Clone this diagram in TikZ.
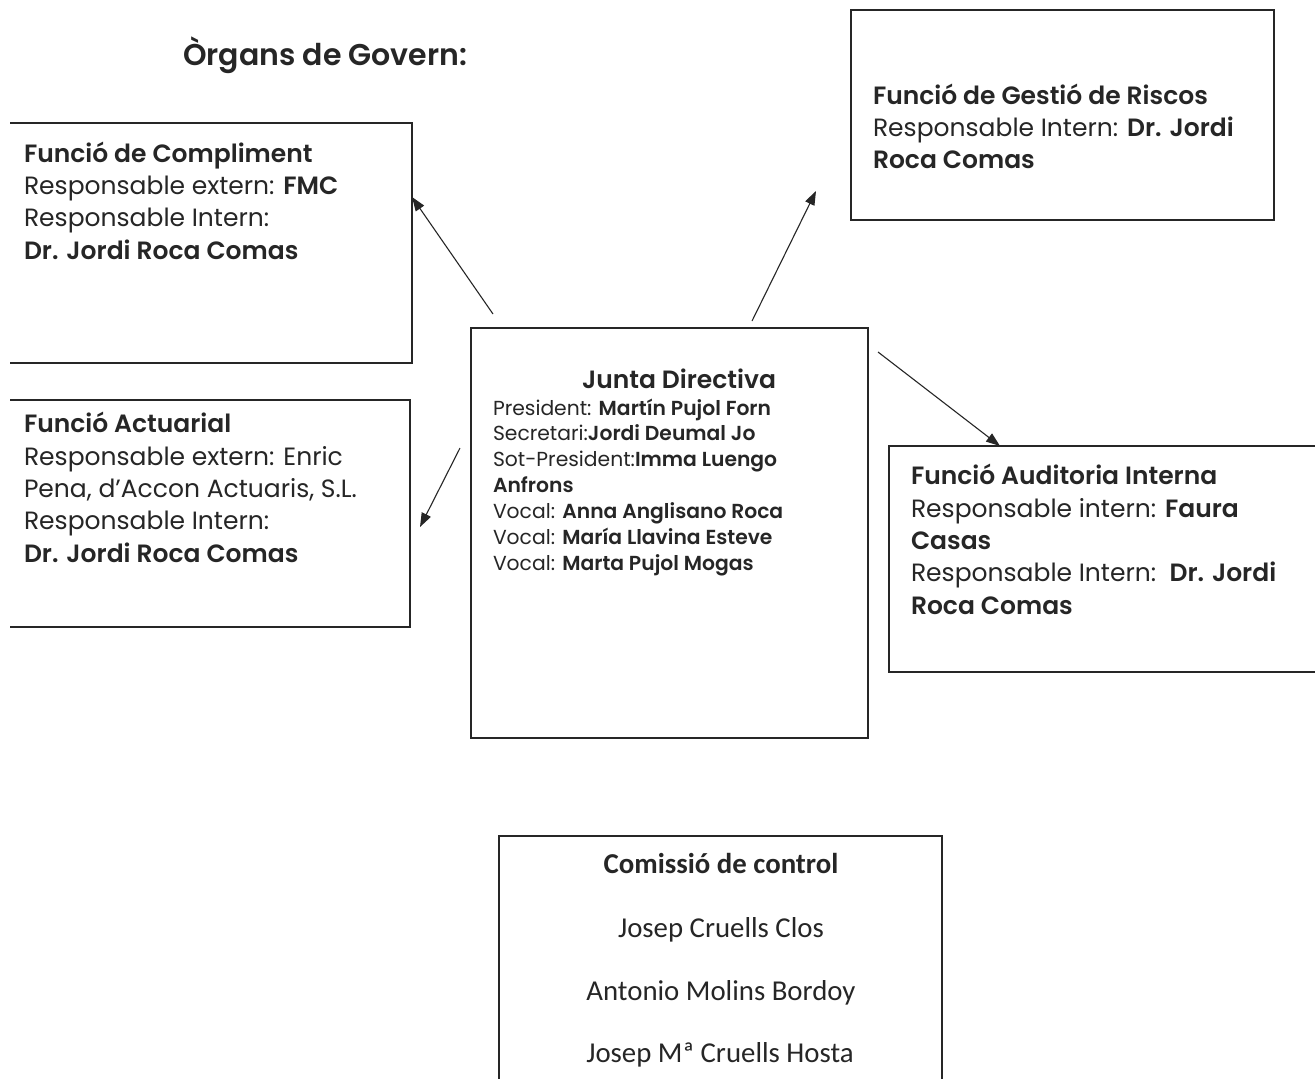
\documentclass[tikz,border=0pt]{standalone}
\usepackage{fontspec}
\setmainfont{Poppins}[BoldFont={Poppins SemiBold}]
\newfontfamily\calib{Carlito}
\usetikzlibrary{arrows.meta,calc}
\definecolor{ink}{RGB}{38,38,38}
\begin{document}
\begin{tikzpicture}[x=1pt,y=-1pt,
  shapebox/.style={draw=none,inner sep=0pt,outer sep=0pt},
  boxline/.style={draw=ink,line width=1.4pt},
  txt/.style={inner sep=0pt,outer sep=0pt,align=left,text=ink,anchor=base west,font={\fontsize{25}{32.3}\selectfont}},
  smalltxt/.style={inner sep=0pt,outer sep=0pt,align=left,text=ink,anchor=base west,font={\fontsize{20.3}{25.9}\selectfont}},
  comtxt/.style={inner sep=0pt,outer sep=0pt,text=ink,anchor=base,font={\calib\fontsize{28.8}{32}\selectfont}},
  arr/.style={draw=ink,line width=1.1pt,-{Triangle[length=14pt,width=10pt]}}
]
\useasboundingbox (0,0) rectangle (1315,1079);
\clip (0,0) rectangle (1315,1079);
\fill[white] (0,0) rectangle (1315,1079);

% title
\node[txt,font={\fontsize{30}{36}\selectfont}] (title) at (183,65) {\textbf{Òrgans de Govern:}};

% boxes
\node[shapebox,minimum width=402pt,minimum height=240pt] (comp) at (211,243) {};
\node[shapebox,minimum width=400pt,minimum height=227pt] (act) at (210,513.5) {};
\node[shapebox,minimum width=397pt,minimum height=410pt] (junta) at (669.5,533) {};
\node[shapebox,minimum width=423pt,minimum height=210pt] (risc) at (1062.5,115) {};
\node[shapebox,minimum width=451pt,minimum height=226pt] (aud) at (1114.5,559) {};
\node[shapebox,minimum width=443pt,minimum height=274pt] (com) at (720.5,973) {};

\draw[boxline] (comp.north west) -- (comp.north east) -- (comp.south east) -- (comp.south west);
\draw[boxline] (act.north west) -- (act.north east) -- (act.south east) -- (act.south west);
\draw[boxline] (junta.north west) rectangle (junta.south east);
\draw[boxline] (risc.north west) rectangle (risc.south east);
\draw[boxline] (aud.north west) rectangle (aud.south east);
\draw[boxline] (com.north west) rectangle (com.south east);

% texts (base anchor = baseline of the last line)
\node[txt] (comptxt) at (24,259) {\textbf{Funció de Compliment}\\Responsable extern: \textbf{FMC}\\Responsable Intern:\\\textbf{Dr. Jordi Roca Comas}};
\node[txt] (acttxt) at (24,562) {\textbf{Funció Actuarial}\\Responsable extern: Enric\\Pena, d'Accon Actuaris, S.L.\\Responsable Intern:\\\textbf{Dr. Jordi Roca Comas}};
\node[txt] (risctxt) at (873,168.6) {\textbf{Funció de Gestió de Riscos}\\Responsable Intern: \textbf{Dr. Jordi}\\\textbf{Roca Comas}};
\node[txt] (audtxt) at (911,614) {\textbf{Funció Auditoria Interna}\\Responsable intern: \textbf{Faura}\\\textbf{Casas}\\Responsable Intern:\ \ \textbf{Dr. Jordi}\\\textbf{Roca Comas}};
\node[txt,anchor=base] (juntatitle) at (679,388) {\textbf{Junta Directiva}};
\node[smalltxt] (juntatxt) at (493,570.4) {President: \textbf{Martín Pujol Forn}\\Secretari:\textbf{Jordi Deumal Jo}\\Sot-President:\textbf{Imma Luengo}\\\textbf{Anfrons}\\Vocal: \textbf{Anna Anglisano Roca}\\Vocal: \textbf{María Llavina Esteve}\\Vocal: \textbf{Marta Pujol Mogas}};

\node[comtxt] (c0) at (721,873) {\textbf{Comissió de control}};
\node[comtxt] (c1) at (721,937) {Josep Cruells Clos};
\node[comtxt] (c2) at (721,1000) {Antonio Molins Bordoy};
\node[comtxt] (c3) at (720,1062) {Josep Mª Cruells Hosta};

% arrows
\coordinate (t1) at (493,314);
\coordinate (t2) at (460,448);
\coordinate (h2) at (420,527);
\coordinate (t3) at (752,321);
\coordinate (h3) at (816,191);
\coordinate (t4) at (878,352);
\draw[arr] (t1) -- (comp.east |- 0,197);
\draw[arr] (t2) -- (h2);
\draw[arr] (t3) -- (h3);
\draw[arr] (t4) -- (aud.north west -| 1000,0);
\end{tikzpicture}
\end{document}
